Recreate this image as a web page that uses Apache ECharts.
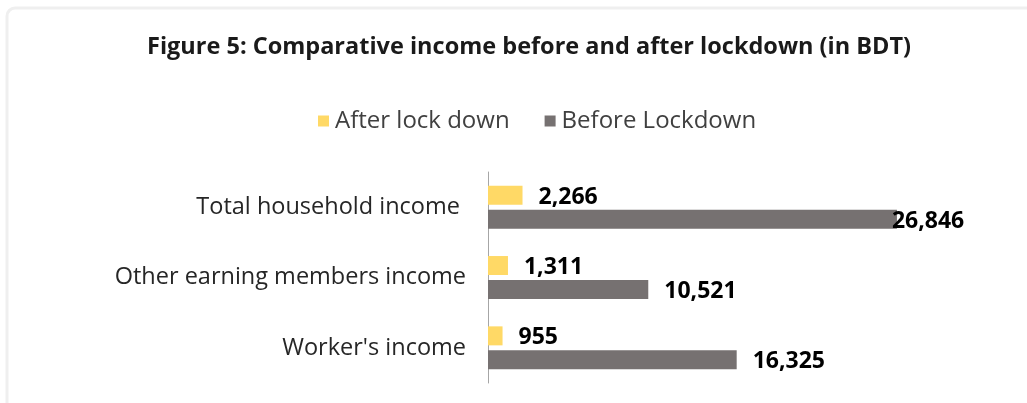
<!DOCTYPE html>
<html>
<head>
<meta charset="utf-8">
<style>
  html, body { margin: 0; padding: 0; background: #ffffff; }
  #chart { width: 1027px; height: 403px; }
</style>
<script src="https://cdn.jsdelivr.net/npm/echarts@6/dist/echarts.min.js"></script>
</head>
<body>
<div id="chart"></div>
<script>
// Income categories, listed bottom to top along the category axis
const categories = ["Worker's income", 'Other earning members income', 'Total household income '];
// Average income in BDT
const afterLockdown = [955, 1311, 2266];
const beforeLockdown = [16325, 10521, 26846];
const seriesNames = ['After lock down', 'Before Lockdown'];

const FONT = '"Open Sans", Lato, sans-serif';
const fmt = v => v.toLocaleString('en-US');

const chart = echarts.init(document.getElementById('chart'), null, { renderer: 'canvas' });

const labelBase = {
  show: true,
  position: 'right',
  distance: 16,
  offset: [0, 2],
  fontFamily: FONT,
  fontWeight: 'bold',
  fontSize: 23,
  color: '#000000',
  formatter: p => fmt(p.value)
};

// The longest bar keeps its label tucked against its end
const beforeMax = Math.max(...beforeLockdown);
const beforeData = beforeLockdown.map(v => v === beforeMax
  ? { value: v, label: { offset: [-21, 2] } }
  : v);

chart.setOption({
  animation: false,
  backgroundColor: '#ffffff',
  graphic: [{
    type: 'rect',
    shape: { x: 7, y: 8, width: 1040, height: 420, r: 8 },
    style: { fill: 'none', stroke: '#efefef', lineWidth: 3 },
    silent: true
  }],
  title: {
    text: 'Figure 5: Comparative income before and after lockdown (in BDT)',
    left: 142,
    top: 30,
    textStyle: { fontFamily: FONT, fontWeight: 'bold', fontSize: 23.5, color: '#1a1a1a' }
  },
  legend: {
    data: seriesNames,
    top: 104,
    left: 313,
    itemWidth: 11,
    itemHeight: 11,
    itemGap: 35,
    icon: 'rect',
    textStyle: { fontFamily: FONT, fontSize: 24, color: '#404040', padding: [0, 0, 0, 1] }
  },
  grid: { left: 488, top: 172, width: 457, height: 211, containLabel: false },
  xAxis: {
    type: 'value',
    min: 0,
    max: 30000,
    show: false
  },
  yAxis: {
    type: 'category',
    data: categories,
    axisLine: { show: true, lineStyle: { color: '#a6a6a6', width: 1 } },
    axisTick: { show: false },
    axisLabel: { fontFamily: FONT, fontSize: 23.5, color: '#262626', margin: 22 }
  },
  series: [
    {
      name: seriesNames[0],
      type: 'bar',
      data: afterLockdown,
      barWidth: 19,
      barGap: '26%',
      itemStyle: { color: '#FFD966' },
      label: labelBase
    },
    {
      name: seriesNames[1],
      type: 'bar',
      data: beforeData,
      barWidth: 19,
      barGap: '26%',
      itemStyle: { color: '#767171' },
      label: labelBase
    }
  ]
});
</script>
</body>
</html>
